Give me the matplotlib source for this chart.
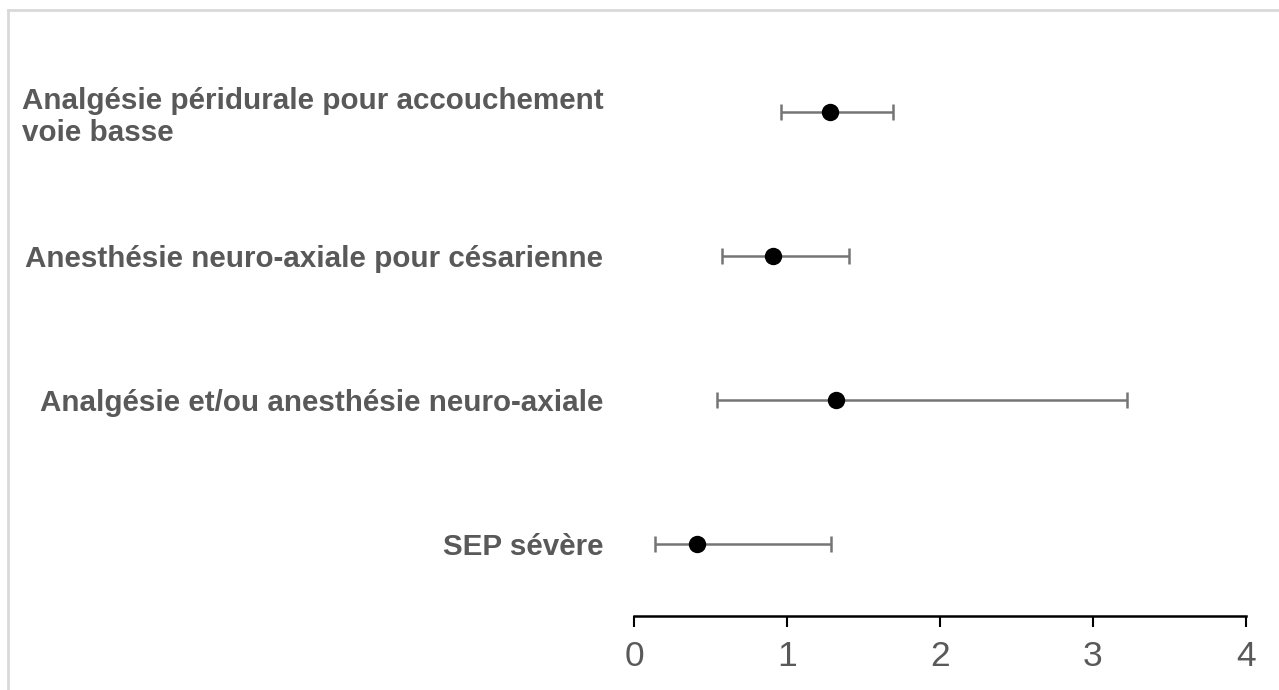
import matplotlib
matplotlib.use("Agg")
import matplotlib.pyplot as plt
from matplotlib.lines import Line2D

labels = ["Analgésie péridurale pour accouchement\nvoie basse",
          "Anesthésie neuro-axiale pour césarienne",
          "Analgésie et/ou anesthésie neuro-axiale",
          "SEP sévère"]
estimate = [1.28, 0.91, 1.32, 0.41]
lower = [0.96, 0.575, 0.54, 0.14]
upper = [1.69, 1.405, 3.22, 1.29]
xticks = [0, 1, 2, 3, 4]

plt.rcParams['font.family'] = ['Liberation Sans', 'DejaVu Sans']

fig = plt.figure(figsize=(12.79, 6.9), dpi=100)
ax = fig.add_axes([634/1279, 1 - 616/690, 612/1279, 576/690])

ypos = [i + 0.5 for i in range(len(labels))]
xerr = [[e - l for e, l in zip(estimate, lower)], [u - e for e, u in zip(estimate, upper)]]
ax.errorbar(estimate, ypos, xerr=xerr, fmt='none', ecolor='#757575',
            elinewidth=1.8, capsize=6, capthick=1.8, zorder=2)
ax.plot(estimate, ypos, 'o', color='black', markersize=11.5, zorder=3)

ax.set_xlim(0, 4)
ax.set_ylim(4, 0)
ax.set_xticks(xticks)
ax.set_xticklabels([str(t) for t in xticks], fontsize=25.5, color='#595959')
ax.set_yticks(ypos)
ax.set_yticklabels(labels, fontsize=21.3, fontweight='bold', color='#595959',
                   multialignment='left', linespacing=1.2)
ax.tick_params(axis='y', length=0, pad=22)
ax.tick_params(axis='x', length=8, width=1.5, color='black', pad=9)
for s in ['left', 'right', 'top']:
    ax.spines[s].set_visible(False)
ax.spines['bottom'].set_linewidth(1.8)
ax.spines['bottom'].set_color('black')

# figure border (cropped box)
fig.add_artist(Line2D([8/1279, 1.0], [1 - 10/690, 1 - 10/690], color='#d9d9d9', lw=2,
                      transform=fig.transFigure))
fig.add_artist(Line2D([8/1279, 8/1279], [0, 1 - 10/690], color='#d9d9d9', lw=2,
                      transform=fig.transFigure))

fig.savefig("out.png", dpi=100)
